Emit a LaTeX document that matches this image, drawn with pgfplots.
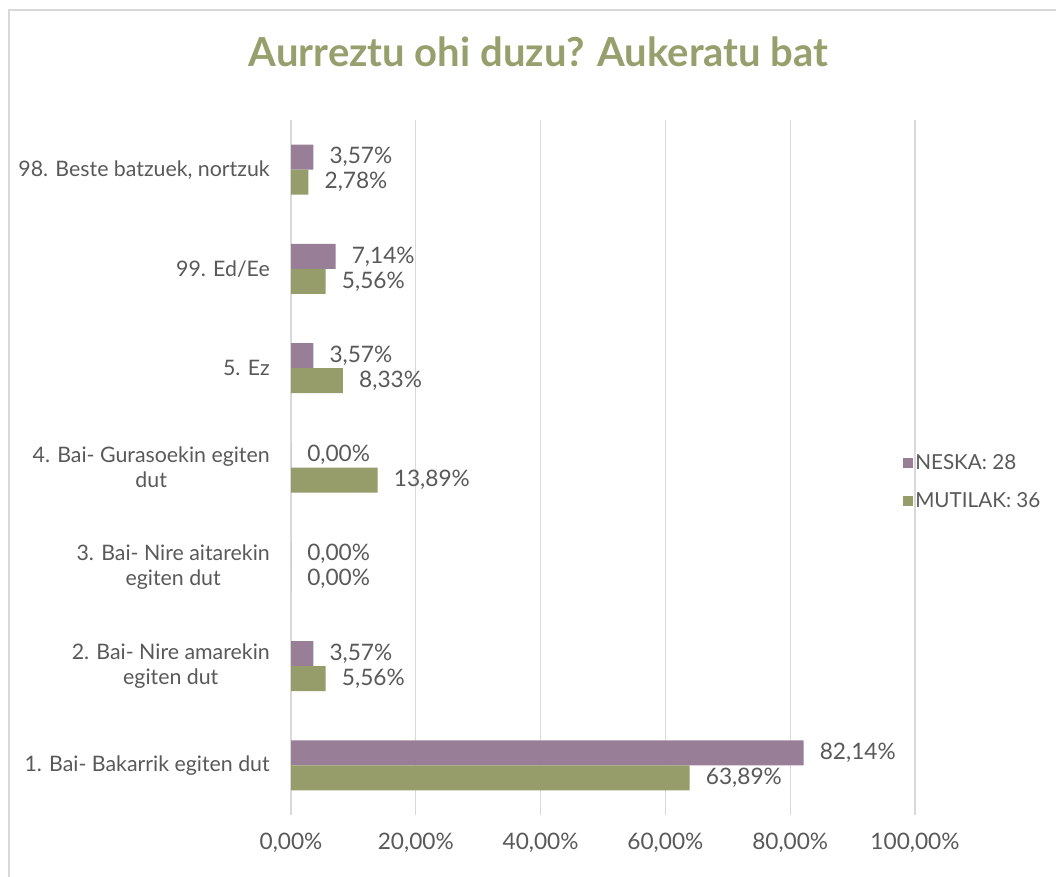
\documentclass[border=0pt]{standalone}
\usepackage{pgfplots}
\pgfplotsset{compat=1.18}
\usepackage{fontspec}
\setmainfont{Lato}
\definecolor{purp}{HTML}{987F97}
\definecolor{olive}{HTML}{969D6B}
\definecolor{titlec}{HTML}{96A06D}
\definecolor{txt}{HTML}{595959}
\definecolor{gridc}{HTML}{D9D9D9}
\begin{document}
\begin{tikzpicture}
\useasboundingbox (0,0) rectangle (792pt,657pt);
\fill[white] (0,0) rectangle (792pt,657pt);
\draw[gridc, line width=1.5pt] (6.4pt,-2pt) -- (6.4pt,649.5pt) -- (800pt,649.5pt);
\node[text=titlec, font=\bfseries\fontsize{30}{34}\selectfont] at (404pt,618pt) {Aurreztu ohi duzu? Aukeratu bat};
\begin{axis}[
  at={(218.25pt,45.75pt)}, anchor=south west,
  scale only axis, width=468pt, height=521.25pt,
  xbar, bar width=18.75pt,
  xmin=0, xmax=100, ymin=-0.5, ymax=6.5,
  axis line style={draw=none},
  major tick length=0pt,
  xmajorgrids, major grid style={gridc, line width=1pt},
  xtick={0,20,40,60,80,100},
  xticklabels={{0,00\%},{20,00\%},{40,00\%},{60,00\%},{80,00\%},{100,00\%}},
  xticklabel style={anchor=center, inner sep=0pt, yshift=-21pt, text=txt, font=\fontsize{17}{20}\selectfont},
  ytick={0,1,2,3,4,5,6},
  yticklabels={{1. Bai- Bakarrik egiten dut},{2. Bai- Nire amarekin\\egiten dut},{3. Bai- Nire aitarekin\\egiten dut},{4. Bai- Gurasoekin egiten\\dut},{5. Ez},{99. Ed/Ee},{98. Beste batzuek, nortzuk}},
  yticklabel style={align=center, anchor=east, inner sep=0pt, xshift=-15.75pt, text=txt, font=\fontsize{16}{18.75}\selectfont},
  /pgf/number format/assume math mode=true,
  nodes near coords={\pgfmathprintnumber[fixed,fixed zerofill,precision=2,use comma]{\pgfplotspointmeta}\%},
  every node near coord/.style={anchor=west, inner sep=0pt, xshift=12pt, text=txt, font=\fontsize{17}{20}\selectfont},
  legend image code/.code={\fill[#1] (0pt,-3.75pt) rectangle (7.5pt,3.75pt);},
  legend style={at={(1,0.5)}, anchor=west, xshift=-9pt, yshift=-10.9pt, draw=none, fill=none, inner sep=0pt,
     row sep=13pt, font=\fontsize{15.5}{19}\selectfont, text=txt,
     nodes={inner sep=1.5pt}},
  legend cell align=left,
]
\addplot[fill=purp, draw=none, bar shift=9.375pt,
  every node near coord/.append style={yshift=9.375pt}] coordinates {
 (82.14,0) (3.57,1) (0,2) (0,3) (3.57,4) (7.14,5) (3.57,6)};
\addlegendentry{NESKA: 28}
\addplot[fill=olive, draw=none, bar shift=-9.375pt,
  every node near coord/.append style={yshift=-9.375pt}] coordinates {
 (63.89,0) (5.56,1) (0,2) (13.89,3) (8.33,4) (5.56,5) (2.78,6)};
\addlegendentry{MUTILAK: 36}
\end{axis}
\end{tikzpicture}
\end{document}
